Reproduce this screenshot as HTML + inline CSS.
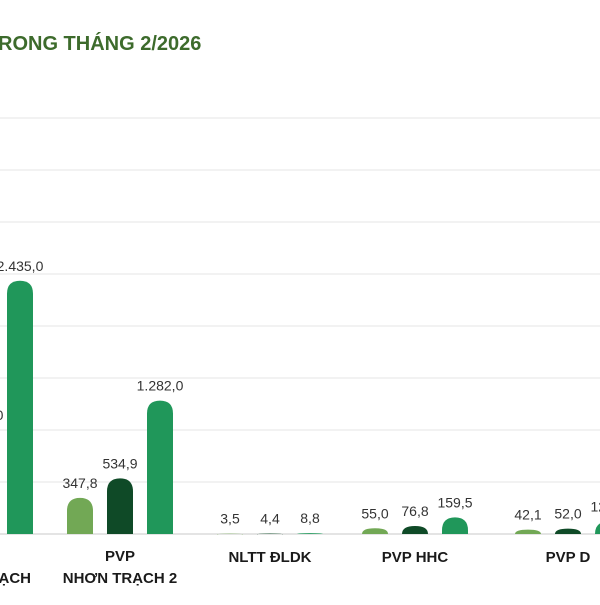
<!DOCTYPE html>
<html><head><meta charset="utf-8"><style>
body{margin:0;background:#fff;width:600px;height:600px;overflow:hidden;font-family:"Liberation Sans",sans-serif}
</style></head><body>
<svg id="chart" width="600" height="600" xmlns="http://www.w3.org/2000/svg">
<text x="-2" y="50" font-size="20" font-weight="bold" fill="#3d6b2c" font-family="Liberation Sans, sans-serif">RONG THÁNG 2/2026</text>
<g id="grid"></g><g id="bars"></g><g id="labels"></g>
</svg>
<script>
const categories=["PVP NHƠN TRẠCH","PVP NHƠN TRẠCH 2","NLTT ĐLDK","PVP HHC","PVP D"];
const catLine1=["PVP","PVP","NLTT ĐLDK","PVP HHC","PVP D"];
const catLine2=["NHƠN TRẠCH","NHƠN TRẠCH 2","","",""];
const series1=[800,347.8,3.5,55.0,42.1];
const series2=[1000,534.9,4.4,76.8,52.0];
const series3=[2435.0,1282.0,8.8,159.5,120];
const valueLabels1=["800,0","347,8","3,5","55,0","42,1"];
const valueLabels2=["1.000,0","534,9","4,4","76,8","52,0"];
const valueLabels3=["2.435,0","1.282,0","8,8","159,5","120,0"];
const gridTicks=[0,500,1000,1500,2000,2500,3000,3500,4000];
const NS="http://www.w3.org/2000/svg";
const y0=534, pxPer=52/500;
const y=v=>y0-v*pxPer;
const groupX=i=>-20+i*145+(i===1?-5:0)+(i===4?8:0);
const offsets=[-40,0,40];
const colors=["#72a855","#0f4a27","#20975a"];
const svg=document.getElementById('chart');
function mk(tag,attrs,parent){const e=document.createElementNS(NS,tag);for(const k in attrs)e.setAttribute(k,attrs[k]);parent.appendChild(e);return e;}
const grid=document.getElementById('grid');
gridTicks.forEach(t=>{
 const l=mk('line',{x1:0,x2:600,y1:y(t),y2:y(t),stroke:t===0?'#c8c8c8':'#e6e6e6','stroke-width':1},grid);
 
 
});
const bars=document.getElementById('bars'),labs=document.getElementById('labels');
const allS=[series1,series2,series3],allL=[valueLabels1,valueLabels2,valueLabels3];
categories.forEach((c,i)=>{
 const cx=groupX(i);
 allS.forEach((s,j)=>{
  const v=s[i],x=cx+offsets[j]-13,w=26,h=Math.max(v*pxPer,1),top=y(v);
  const r=Math.min(13,h);
  const d=`M${x},${y0} L${x},${top+r} Q${x},${top} ${x+w/2},${top} Q${x+w},${top} ${x+w},${top+r} L${x+w},${y0} Z`;
  const p=mk('path',{d:d,fill:colors[j]},bars);
  
  
  const t=mk('text',{x:cx+offsets[j],y:top-10,'text-anchor':'middle','font-size':14,fill:'#333'},labs);
  t.textContent=allL[j][i];
  
  
 });
 const l1=mk('text',{x:cx,y:catLine2[i]?561:562,'text-anchor':'middle','font-size':15,'font-weight':'bold',fill:'#1a1a1a'},labs);
 l1.textContent=catLine1[i];
 
 
 if(catLine2[i]){
  const l2=mk('text',{x:cx,y:583,'text-anchor':'middle','font-size':15,'font-weight':'bold',fill:'#1a1a1a'},labs);
  l2.textContent=catLine2[i];
  
  
 }
});
</script>
</body></html>
